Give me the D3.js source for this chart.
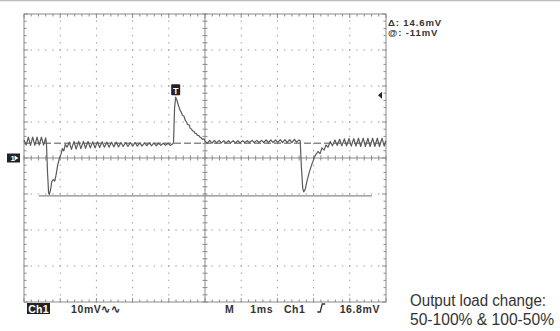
<!DOCTYPE html>
<html>
<head>
<meta charset="utf-8">
<script src="https://cdn.jsdelivr.net/npm/d3@7"></script>
<style>
  html, body { margin: 0; padding: 0; background: #fff; }
  svg { display: block; }
  .scope { font-family: "Liberation Sans", Arial, sans-serif; font-weight: bold; font-size: 10.5px; fill: #333; letter-spacing: 0.6px; }
  .readTop { font-size: 9.5px; letter-spacing: 0.9px; }
</style>
</head>
<body>
<svg width="560" height="331"></svg>
<script>
// развёртка и чувствительность
const timeDomain = [0, 10];      // мс, 1 мс/дел
const voltDomain = [-40, 40];    // мВ, 10 мВ/дел

// осциллограмма: [время, мс ; напряжение, мВ]
const trace = [
  [0.00, 5.0], [0.06, 3.6], [0.12, 5.8], [0.18, 3.5], [0.24, 5.8], [0.30, 3.5], [0.36, 5.8],
  [0.42, 3.6], [0.48, 5.8], [0.54, 3.6], [0.60, 5.6], [0.62, 4.0], [0.65, -4.0], [0.68, -9.8],
  [0.70, -10.1], [0.73, -9.0], [0.77, -6.5], [0.81, -6.0], [0.85, -6.4], [0.89, -4.5],
  [0.93, -2.0], [0.98, 0.0], [1.02, 1.0], [1.06, 2.6], [1.10, 2.0], [1.14, 3.8], [1.19, 3.0],
  [1.25, 4.4], [1.31, 2.4], [1.38, 4.6], [1.44, 2.5], [1.51, 4.6], [1.57, 2.6], [1.64, 4.6],
  [1.70, 2.7], [1.77, 4.6], [1.83, 2.8], [1.90, 4.5], [1.96, 2.8], [2.03, 4.5], [2.09, 2.9],
  [2.16, 4.5], [2.22, 3.0], [2.29, 4.4], [2.35, 3.0], [2.42, 4.4], [2.48, 3.1], [2.55, 4.4],
  [2.61, 3.1], [2.68, 4.3], [2.74, 3.2], [2.81, 4.3], [2.87, 3.2], [2.94, 4.3], [3.00, 3.3],
  [3.07, 4.3], [3.13, 3.3], [3.20, 4.2], [3.26, 3.3], [3.33, 4.2], [3.39, 3.4], [3.46, 4.2],
  [3.52, 3.4], [3.59, 4.2], [3.65, 3.4], [3.72, 4.1], [3.78, 3.5], [3.85, 4.1], [3.91, 3.5],
  [3.98, 4.1], [4.04, 3.5], [4.10, 3.9], [4.13, 4.2], [4.16, 14.0], [4.19, 16.9], [4.22, 16.2],
  [4.26, 14.8], [4.31, 13.3], [4.35, 12.6], [4.38, 11.8], [4.42, 11.6], [4.45, 10.6],
  [4.49, 10.0], [4.52, 9.3], [4.56, 9.2], [4.59, 8.3], [4.63, 8.0], [4.66, 7.5], [4.70, 7.4],
  [4.72, 6.9], [4.76, 6.8], [4.79, 6.3], [4.83, 6.2], [4.86, 5.8], [4.90, 5.6], [4.93, 5.2],
  [4.97, 5.3], [5.00, 4.7], [5.06, 4.1], [5.13, 4.9], [5.19, 4.1], [5.26, 4.9], [5.32, 4.2],
  [5.39, 4.9], [5.45, 4.2], [5.52, 4.8], [5.58, 4.2], [5.65, 4.8], [5.71, 4.2], [5.78, 4.8],
  [5.84, 4.2], [5.91, 4.8], [5.97, 4.2], [6.04, 4.8], [6.10, 4.3], [6.17, 4.8], [6.23, 4.3],
  [6.30, 4.9], [6.36, 4.3], [6.43, 4.9], [6.49, 4.3], [6.56, 4.9], [6.62, 4.3], [6.69, 5.0],
  [6.75, 4.3], [6.82, 5.0], [6.88, 4.3], [6.95, 5.0], [7.01, 4.3], [7.08, 5.1], [7.14, 4.3],
  [7.21, 5.1], [7.27, 4.3], [7.34, 5.1], [7.40, 4.3], [7.47, 5.2], [7.53, 4.4], [7.60, 5.0],
  [7.63, 4.8], [7.66, -2.0], [7.70, -8.5], [7.73, -9.4], [7.77, -8.6], [7.82, -6.3],
  [7.88, -4.0], [7.96, -1.5], [8.04, 0.6], [8.12, 1.8], [8.18, 1.2], [8.23, 2.8], [8.29, 2.2],
  [8.34, 3.6], [8.40, 3.0], [8.46, 4.6], [8.52, 3.4], [8.59, 5.0], [8.65, 3.5], [8.72, 5.2],
  [8.78, 3.4], [8.85, 5.3], [8.91, 3.4], [8.98, 5.4], [9.04, 3.3], [9.11, 5.4], [9.17, 3.3],
  [9.24, 5.5], [9.30, 3.2], [9.37, 5.5], [9.43, 3.2], [9.50, 5.5], [9.56, 3.2], [9.63, 5.5],
  [9.69, 3.2], [9.76, 5.5], [9.82, 3.2], [9.89, 5.5], [9.95, 3.3], [10.0, 4.8]
];

// курсоры и маркеры
const cursorDashed = 4.1;          // мВ
const cursorSolid = -10.5;         // мВ
const cursorSolidSpan = [0.41, 9.61];
const triggerTime = 4.19;          // мс
const triggerLevel = 17.4;         // мВ
const groundLevel = 0;             // мВ

const readoutTop = ["\u0394: 14.6mV", "@: -11mV"];
const readoutBottom = [
  {text: "M", t: 5.55},
  {text: "1ms", t: 6.25},
  {text: "Ch1", t: 7.18},
  {text: "16.8mV", t: 8.72}
];
const caption = ["Output load change:", "50-100% & 100-50%"];

const svg = d3.select("svg");

const attr_area = {left: 24, right: 386, top: 14, bottom: 302};

const scX = d3.scaleLinear().domain(timeDomain).range([attr_area.left, attr_area.right]);
const scY = d3.scaleLinear().domain(voltDomain).range([attr_area.bottom, attr_area.top]);

// верхняя серая полоса
svg.append("line")
  .attr("x1", 0).attr("x2", 560).attr("y1", 0.5).attr("y2", 0.5)
  .attr("stroke", "#bbb").attr("stroke-width", 1.5);

// сетка: точки
const grid = svg.append("g").attr("fill", "#9a9a9a");
const minorT = d3.range(0, 10.001, 0.2);
const minorV = d3.range(-40, 40.001, 2);
const majorT = [1, 2, 3, 4, 6, 7, 8, 9];
const majorV = [-30, -20, -10, 10, 20, 30];

majorV.forEach(v => {
  grid.selectAll(null).data(minorT).enter().append("rect")
    .attr("x", d => scX(d) - 0.7).attr("y", scY(v) - 0.5)
    .attr("width", 1.4).attr("height", 1);
});
majorT.forEach(t => {
  grid.selectAll(null).data(minorV).enter().append("rect")
    .attr("x", scX(t) - 0.5).attr("y", d => scY(d) - 0.7)
    .attr("width", 1).attr("height", 1.4);
});

// рамка и центральный крест
const frame = svg.append("g").attr("stroke", "#8a8a8a").attr("stroke-width", 1).attr("fill", "none");
frame.append("rect")
  .attr("x", attr_area.left).attr("y", attr_area.top)
  .attr("width", attr_area.right - attr_area.left)
  .attr("height", attr_area.bottom - attr_area.top);
frame.append("line")
  .attr("x1", scX(5)).attr("x2", scX(5)).attr("y1", attr_area.top).attr("y2", attr_area.bottom);
frame.append("line")
  .attr("x1", attr_area.left).attr("x2", attr_area.right).attr("y1", scY(0)).attr("y2", scY(0));

// деления на рамке и на кресте
const isMajorT = d => Math.abs(d - Math.round(d)) < 1e-6;
const isMajorV = d => Math.abs(d / 10 - Math.round(d / 10)) < 1e-6;

frame.selectAll(".tickTop").data(minorT).enter().append("line")
  .attr("x1", d => scX(d)).attr("x2", d => scX(d))
  .attr("y1", attr_area.top).attr("y2", d => attr_area.top + (isMajorT(d) ? 4 : 2.5));
frame.selectAll(".tickBot").data(minorT).enter().append("line")
  .attr("x1", d => scX(d)).attr("x2", d => scX(d))
  .attr("y1", attr_area.bottom).attr("y2", d => attr_area.bottom - (isMajorT(d) ? 4 : 2.5));
frame.selectAll(".tickMid").data(minorT).enter().append("line")
  .attr("x1", d => scX(d)).attr("x2", d => scX(d))
  .attr("y1", scY(0) - 2.5).attr("y2", scY(0) + 2.5);
frame.selectAll(".tickL").data(minorV).enter().append("line")
  .attr("y1", d => scY(d)).attr("y2", d => scY(d))
  .attr("x1", attr_area.left).attr("x2", d => attr_area.left + (isMajorV(d) ? 4 : 2.5));
frame.selectAll(".tickR").data(minorV).enter().append("line")
  .attr("y1", d => scY(d)).attr("y2", d => scY(d))
  .attr("x1", attr_area.right).attr("x2", d => attr_area.right - (isMajorV(d) ? 4 : 2.5));
frame.selectAll(".tickC").data(minorV).enter().append("line")
  .attr("y1", d => scY(d)).attr("y2", d => scY(d))
  .attr("x1", scX(5) - 2.5).attr("x2", scX(5) + 2.5);

// курсоры
svg.append("line")
  .attr("x1", scX(0)).attr("x2", scX(10))
  .attr("y1", scY(cursorDashed)).attr("y2", scY(cursorDashed))
  .attr("stroke", "#8a8a8a").attr("stroke-width", 1.3).attr("stroke-dasharray", "7,3");
svg.append("line")
  .attr("x1", scX(cursorSolidSpan[0])).attr("x2", scX(cursorSolidSpan[1]))
  .attr("y1", scY(cursorSolid)).attr("y2", scY(cursorSolid))
  .attr("stroke", "#8a8a8a").attr("stroke-width", 1.3);

// сигнал
const line = d3.line().x(d => scX(d[0])).y(d => scY(d[1]));
svg.append("path")
  .datum(trace)
  .attr("d", line)
  .attr("fill", "none")
  .attr("stroke", "#5a5a5a")
  .attr("stroke-width", 1.2)
  .attr("stroke-linejoin", "round");

// маркер триггера "T"
const tg = svg.append("g").attr("transform", `translate(${scX(triggerTime)}, ${scY(triggerLevel) - 4})`);
tg.append("rect").attr("x", -4.5).attr("y", -7).attr("width", 9).attr("height", 11)
  .attr("fill", "#222").attr("rx", 1);
tg.append("text").attr("x", 0).attr("y", 2.5).attr("text-anchor", "middle")
  .attr("class", "scope").style("fill", "#fff").style("font-size", "9px")
  .style("letter-spacing", "0px").text("T");

// уровень триггера справа
svg.append("path")
  .attr("d", `M${scX(10) - 8},${scY(triggerLevel)} l4,-3.5 l0,7 z`)
  .attr("fill", "#222");

// маркер земли
const gg = svg.append("g").attr("transform", `translate(7, ${scY(groundLevel)})`);
gg.append("rect").attr("x", 0).attr("y", -4.5).attr("width", 13).attr("height", 9).attr("fill", "#222");
gg.append("text").attr("x", 3.5).attr("y", 3).attr("class", "scope")
  .style("fill", "#fff").style("font-size", "8px").style("letter-spacing", "0px").text("1");
gg.append("path").attr("d", "M7.5,-2.5 l4,2.5 l-4,2.5 z").attr("fill", "#fff");

// показания курсоров
svg.selectAll(".readTop").data(readoutTop).enter().append("text")
  .attr("class", "scope readTop")
  .attr("x", 388).attr("y", (d, i) => 26 + i * 10)
  .text(d => d);

// нижняя строка
const chBox = svg.append("g").attr("transform", "translate(27, 303)");
chBox.append("rect").attr("width", 23).attr("height", 11).attr("fill", "#222");
chBox.append("text").attr("x", 11.5).attr("y", 9.5).attr("text-anchor", "middle")
  .attr("class", "scope").style("fill", "#fff").style("letter-spacing", "0.3px").text("Ch1");

svg.append("text").attr("class", "scope").attr("x", 71).attr("y", 313).text("10mV\u223F\u223F");

svg.selectAll(".readBot").data(readoutBottom).enter().append("text")
  .attr("class", "scope")
  .attr("x", d => scX(d.t)).attr("y", 313)
  .text(d => d.text);

// символ фронта
svg.append("path")
  .attr("d", `M${scX(8.1)},312 l3,0 l2,-8 l3,0`)
  .attr("fill", "none").attr("stroke", "#333").attr("stroke-width", 1.3);

// подпись
svg.selectAll(".caption").data(caption).enter().append("text")
  .attr("x", 410).attr("y", (d, i) => 306 + i * 19)
  .attr("textLength", (d, i) => i === 0 ? 136 : 144)
  .attr("lengthAdjust", "spacingAndGlyphs")
  .style("font-family", "'Liberation Sans Narrow', 'Liberation Sans', Arial, sans-serif")
  .style("font-size", "16px")
  .style("fill", "#333")
  .text(d => d);
</script>
</body>
</html>
